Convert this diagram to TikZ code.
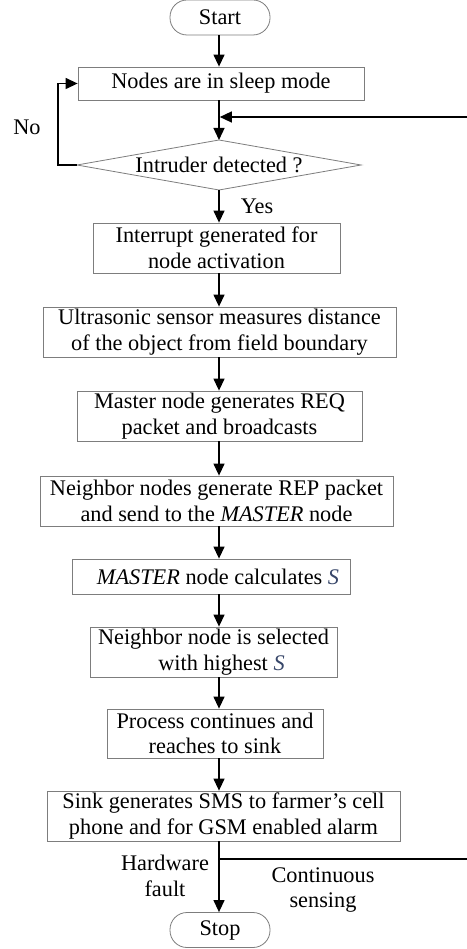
\documentclass[tikz,border=0pt]{standalone}
\usepackage{fontspec}
\setmainfont{Liberation Serif}
\usetikzlibrary{arrows.meta}
\definecolor{boxgray}{RGB}{125,125,125}
\definecolor{sblue}{RGB}{55,70,105}
\newcommand{\Sv}{\textcolor{sblue}{\textit{S}}}
\begin{document}
\begin{tikzpicture}[x=1pt,y=-1pt,
  font=\fontsize{22.3}{25.5}\selectfont,
  box/.style={draw=boxgray, line width=0.8pt, fill=white, align=center, inner sep=0pt},
  term/.style={draw=boxgray, line width=0.8pt, fill=white, rounded corners=17pt, minimum width=100pt, minimum height=35pt, inner sep=0pt},
  conn/.style={line width=1.3pt, draw=black},
  arr/.style={conn, -{Triangle[width=11pt,length=12pt]}},
  lbl/.style={align=center, inner sep=0pt}]
\useasboundingbox (0,0) rectangle (466,949);

% spine reference
\coordinate (spine) at (219,0);

\node[term] (start) at (220,17.5) {Start};
\node[box, minimum width=286pt, minimum height=33pt] (b1) at (221,83.5) {Nodes are in sleep mode};

% decision diamond
\coordinate (dt) at (219,140);
\coordinate (db) at (219,190);
\coordinate (dl) at (77,165);
\coordinate (dr) at (361,165);
\draw[draw=boxgray, line width=0.8pt, fill=white] (dt) -- (dr) -- (db) -- (dl) -- cycle;
\node[lbl] (dec) at (219,165) {Intruder detected ?};

\node[box, minimum width=247pt, minimum height=50pt] (b2) at (216.5,248) {Interrupt generated for\\node activation};
\node[box, minimum width=353pt, minimum height=50pt] (b3) at (219.5,332) {Ultrasonic sensor measures distance\\of the object from field boundary};
\node[box, minimum width=285pt, minimum height=50pt] (b4) at (219.5,416) {Master node generates REQ\\packet and broadcasts};
\node[box, minimum width=353pt, minimum height=50pt] (b5) at (216.5,501) {Neighbor nodes generate REP packet\\and send to the \textit{MASTER} node};
\node[box, minimum width=278pt, minimum height=35pt] (b6) at (211,576.5) {\hspace*{14pt}\textit{MASTER} node calculates \Sv};
\node[box, minimum width=247pt, minimum height=50pt] (b7) at (213.5,652) {Neighbor node is selected\\\hspace*{16pt}with highest \Sv};
\node[box, minimum width=216pt, minimum height=49pt] (b8) at (215,733.5) {Process continues and\\reaches to sink};
\node[box, minimum width=353pt, minimum height=50pt] (b9) at (223.5,816) {Sink generates SMS to farmer’s cell\\phone and for GSM enabled alarm};
\node[term] (stop) at (220,930) {Stop};

% labels
\node[lbl] (lno) at (27,127) {No};
\node[lbl] (lyes) at (257,206) {Yes};
\node[lbl] (lhw) at (165,876) {Hardware\\fault};
\node[lbl] (lcs) at (323,890) {Continuous\\sensing};

% helper coordinates
\coordinate (merge) at (219.8,117);
\coordinate (split) at (219,859);
\coordinate (farright) at (468,859);
\coordinate (noturn) at (58,165);

% connectors
\draw[arr] (start.south -| spine) -- (b1.north -| spine);
\draw[arr] (b1.south -| spine) -- (dt);
\draw[arr] (dl) -- (noturn) |- (b1.west);
\draw[arr] (db) -- (b2.north -| spine);
\draw[arr] (b2.south -| spine) -- (b3.north -| spine);
\draw[arr] (b3.south -| spine) -- (b4.north -| spine);
\draw[arr] (b4.south -| spine) -- (b5.north -| spine);
\draw[arr] (b5.south -| spine) -- (b6.north -| spine);
\draw[arr] (b6.south -| spine) -- (b7.north -| spine);
\draw[arr] (b7.south -| spine) -- (b8.north -| spine);
\draw[arr] (b8.south -| spine) -- (b9.north -| spine);
\draw[arr] (b9.south -| spine) -- (stop.north -| spine);
\draw[arr] (split) -- (farright) |- (merge);
\end{tikzpicture}
\end{document}
